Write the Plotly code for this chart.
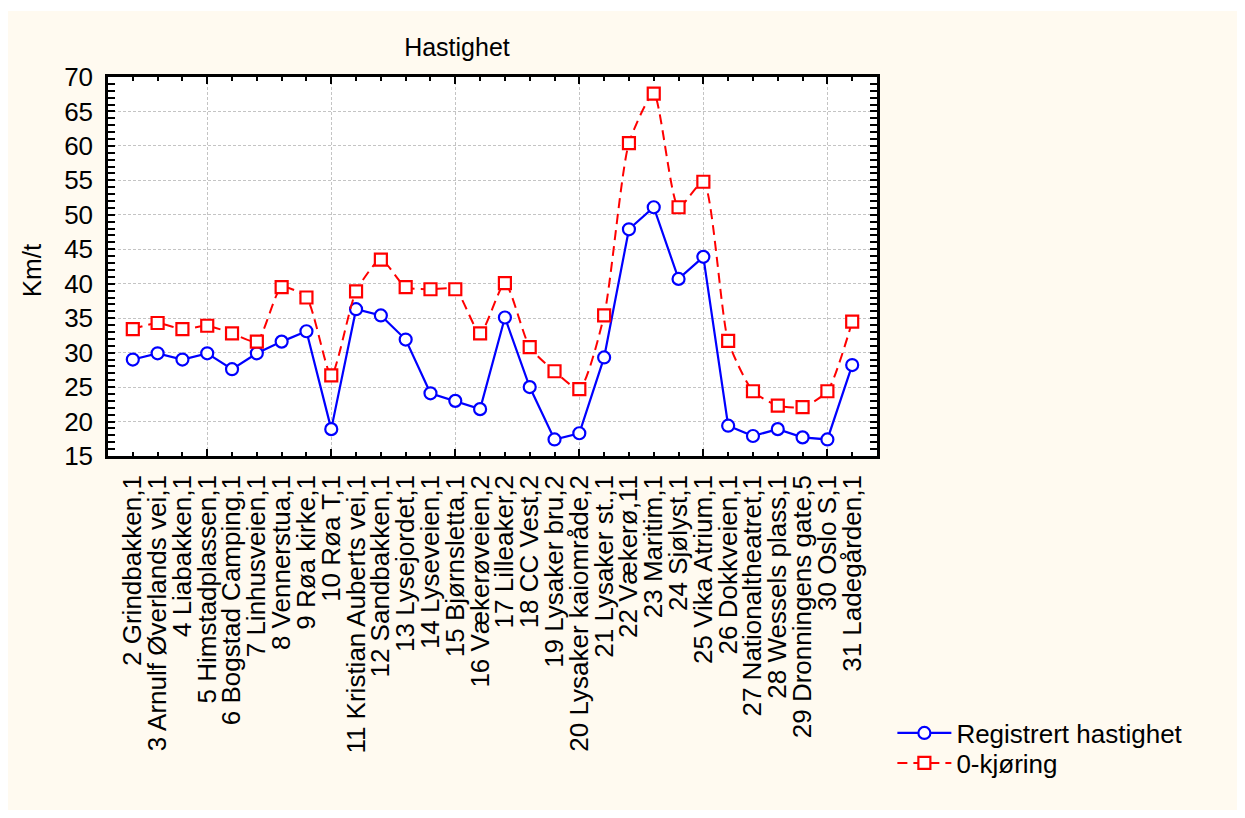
import plotly.graph_objects as go

# stops along the route (x categories)
stops = [
    "2 Grindbakken,1", "3 Arnulf Øverlands vei,1", "4 Liabakken,1", "5 Himstadplassen,1",
    "6 Bogstad Camping,1", "7 Linhusveien,1", "8 Vennerstua,1", "9 Røa kirke,1",
    "10 Røa T,1", "11 Kristian Auberts vei,1", "12 Sandbakken,1", "13 Lysejordet,1",
    "14 Lyseveien,1", "15 Bjørnsletta,1", "16 Vækerøveien,2", "17 Lilleaker,2",
    "18 CC Vest,2", "19 Lysaker bru,2", "20 Lysaker kaiområde,2", "21 Lysaker st.,1",
    "22 Vækerø,11", "23 Maritim,1", "24 Sjølyst,1", "25 Vika Atrium,1",
    "26 Dokkveien,1", "27 Nationaltheatret,1", "28 Wessels plass,1",
    "29 Dronningens gate,5", "30 Oslo S,1", "31 Ladegården,1",
]

registrert = [29.0, 29.9, 29.0, 29.9, 27.6, 29.9, 31.6, 33.1, 18.9, 36.3,
              35.4, 31.9, 24.1, 23.0, 21.8, 35.1, 25.0, 17.4, 18.3, 29.3,
              47.9, 51.1, 40.7, 43.9, 19.4, 17.9, 18.9, 17.7, 17.4, 28.2]

null_kjoring = [33.4, 34.3, 33.4, 33.9, 32.8, 31.6, 39.5, 38.0, 26.7, 38.9,
                43.5, 39.5, 39.2, 39.2, 32.8, 40.1, 30.8, 27.3, 24.7, 35.4,
                60.4, 67.6, 51.1, 54.8, 31.7, 24.4, 22.3, 22.1, 24.4, 34.5]

grid_stops = [3, 8, 13, 18, 23, 28]

FONT = "Liberation Sans, Arial, sans-serif"
CREAM = "#FFFAF0"
idx = list(range(len(stops)))

fig = go.Figure()

fig.add_trace(go.Scatter(
    x=idx, y=registrert, name="Registrert hastighet",
    mode="lines+markers", legend="legend",
    line=dict(color="#0000FF", width=2.2),
    marker=dict(symbol="circle", size=12, color="white",
                line=dict(color="#0000FF", width=2.2)),
))
fig.add_trace(go.Scatter(
    x=idx, y=null_kjoring, name="0-kjøring",
    mode="lines+markers", legend="legend2",
    line=dict(color="#FF0000", width=2, dash="10px,6px", shape="spline", smoothing=0.6),
    marker=dict(symbol="square", size=12, color="white",
                line=dict(color="#FF0000", width=2.2)),
))
# helper trace so the second x axis (long ticks + vertical grid) is drawn
fig.add_trace(go.Scatter(x=[None], y=[None], xaxis="x2", showlegend=False,
                         hoverinfo="skip"))

legend_style = dict(x=1.02, xanchor="left", yanchor="middle",
                    bgcolor="rgba(0,0,0,0)", font=dict(family=FONT, size=26),
                    itemwidth=54)

fig.update_layout(
    width=1229, height=802,
    paper_bgcolor="white",
    plot_bgcolor="white",
    margin=dict(l=100, r=360, t=69, b=354),
    font=dict(family=FONT, size=26, color="black"),
    title=dict(text="Hastighet", x=0.3653, xref="container", xanchor="center",
               y=0.9514, yref="container", yanchor="middle",
               font=dict(family=FONT, size=25, color="black")),
    showlegend=True,
    legend=dict(y=-0.731, **legend_style),
    legend2=dict(y=-0.810, **legend_style),
    xaxis=dict(
        range=[-1, 30], tickmode="array", tickvals=idx, ticktext=stops,
        tickangle=-90, ticks="inside", ticklen=4, tickwidth=1.5, tickcolor="black",
        showgrid=False, zeroline=False, showline=True, linecolor="black",
        linewidth=2.5, mirror="allticks", automargin=False,
        ticklabelstandoff=6,
        tickfont=dict(family=FONT, size=26),
    ),
    xaxis2=dict(
        range=[-1, 30], overlaying="x", side="bottom", tickmode="array",
        tickvals=grid_stops, showticklabels=False, ticks="inside", ticklen=7,
        tickwidth=2, tickcolor="black", showgrid=True, gridcolor="#c4c4c4",
        griddash="3px,2px", gridwidth=1, zeroline=False, showline=False,
        mirror="allticks", automargin=False,
    ),
    yaxis=dict(
        range=[15, 70], dtick=5, tick0=15, ticks="inside", ticklen=7,
        tickwidth=2, tickcolor="black", showgrid=True, gridcolor="#c4c4c4",
        griddash="3px,2px", gridwidth=1, zeroline=False, showline=True,
        linecolor="black", linewidth=2.5, mirror="allticks", automargin=False,
        ticklabelstandoff=7,
        minor=dict(dtick=1, ticks="inside", ticklen=4, tickwidth=1.5,
                   tickcolor="black", showgrid=False),
        tickfont=dict(family=FONT, size=26),
    ),
    annotations=[
        dict(text="Km/t", xref="paper", yref="paper", x=-0.0988, y=0.49,
             textangle=-90, showarrow=False, xanchor="center", yanchor="middle",
             font=dict(family=FONT, size=26, color="black")),
    ],
    shapes=[
        dict(type="rect", xref="paper", yref="paper", layer="below",
             x0=-0.1326, x1=1.472, y0=-0.939, y1=1.174,
             fillcolor=CREAM, line=dict(width=0)),
        dict(type="rect", xref="paper", yref="paper", layer="below",
             x0=0, x1=1, y0=0, y1=1, fillcolor="white", line=dict(width=0)),
    ],
)

fig.write_html("out.html")
